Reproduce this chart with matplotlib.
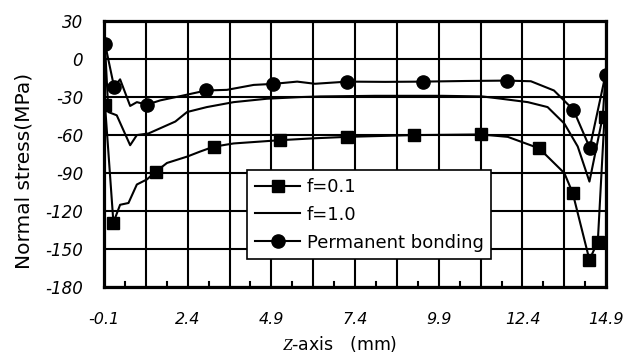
import matplotlib
matplotlib.use("Agg")
import matplotlib.pyplot as plt
import numpy as np

plt.rcParams['font.family'] = ['DejaVu Sans']
plt.rcParams['mathtext.fontset'] = 'custom'
plt.rcParams['mathtext.it'] = 'Liberation Serif:italic'
plt.rcParams['mathtext.rm'] = 'DejaVu Sans'

# f=0.1 (square markers on selected points)
x_f01 = [-0.07, 0.18, 0.38, 0.63, 0.88, 1.18, 1.45, 1.78, 2.38, 2.77, 3.17, 3.77, 5.17, 6.2,
         7.17, 9.16, 11.16, 11.96, 12.9, 13.65, 13.9, 14.4, 14.65, 14.85]
y_f01 = [-36.6, -129, -115, -113.6, -99, -95, -88.8, -82, -77, -73, -69.2, -66.6, -64, -62.5,
         -61.4, -60, -59.5, -61.4, -70.5, -90, -105.7, -158.5, -144, -45.7]
mk_f01 = [0, 1, 6, 10, 12, 14, 15, 16, 18, 20, 21, 22, 23]

# f=1.0 (plain line)
x_f10 = [-0.07, 0.03, 0.28, 0.68, 0.88, 1.23, 2.03, 2.38, 2.97, 3.77, 4.77, 5.77, 6.37,
         8.0, 10.0, 11.2, 11.76, 12.56, 13.15, 13.65, 14.05, 14.4, 14.8, 14.88]
y_f10 = [10, -41.8, -44.4, -68, -60, -58.7, -49.3, -41.8, -37.9, -34, -31.3, -30, -29.5,
         -29, -29, -29.5, -31.3, -34, -37.9, -50.9, -69, -96.7, -45, -12]

# Permanent bonding (circle markers on selected points)
x_pb = [-0.07, 0.2, 0.38, 0.68, 0.88, 1.18, 1.58, 2.17, 2.95, 3.57, 4.37, 4.95, 5.67, 6.2,
        7.17, 8.3, 9.43, 10.7, 11.93, 12.65, 13.34, 13.92, 14.41, 14.88]
y_pb = [12, -22, -16, -37, -34, -36, -32.6, -29.3, -24.8, -24.3, -20.4, -19.6, -17.8, -19.5,
        -17.8, -18, -17.8, -17.3, -17, -17.5, -24.8, -40, -70, -12.3]
mk_pb = [0, 1, 5, 8, 11, 14, 16, 18, 21, 22, 23]

x_labels = ["-0.1", "2.4", "4.9", "7.4", "9.9", "12.4", "14.9"]
y_ticks = [30, 0, -30, -60, -90, -120, -150, -180]

fig = plt.figure(figsize=(6.23, 3.63), dpi=100)
ax = fig.add_axes([0.167, 0.209, 0.806, 0.733])

ax.plot(x_f01, y_f01, color='black', lw=1.5, marker='s', ms=9, markevery=mk_f01, label='f=0.1', zorder=3)
ax.plot(x_f10, y_f10, color='black', lw=1.5, label='f=1.0', zorder=3)
ax.plot(x_pb, y_pb, color='black', lw=1.5, marker='o', ms=9.5, markevery=mk_pb, label='Permanent bonding', zorder=3)

ax.set_xlim(-0.1, 14.9)
ax.set_ylim(-180, 30)
ax.set_xticks(np.arange(-0.1, 14.95, 2.5))
ax.set_xticklabels(x_labels, fontsize=11.5, style='italic')
ax.set_xticks(np.arange(-0.1, 14.95, 1.25), minor=True)
ax.set_yticks(y_ticks)
ax.set_yticklabels([str(v) for v in y_ticks], fontsize=12, style='italic')
ax.grid(True, which='both', color='black', lw=1.5)
ax.tick_params(axis='x', which='both', length=0, pad=18)
ax.tick_params(axis='y', length=0, pad=15)
# small inner ticks halfway between grid lines
for xm in np.arange(-0.1 + 0.625, 14.9, 1.25):
    ax.plot([xm, xm], [-180, -176], color='black', lw=1.5, clip_on=False, zorder=2)
for s in ax.spines.values():
    s.set_linewidth(2.3)

ax.set_ylabel('Normal stress(MPa)', fontsize=14.5)
ax.yaxis.set_label_coords(-0.141, 0.436)
ax.set_xlabel('$Z$-axis   (mm)', fontsize=12.5)
ax.xaxis.set_label_coords(0.47, -0.175)

leg = ax.legend(loc='upper left', bbox_to_anchor=(0.285, 0.44), borderaxespad=0, fontsize=13,
                frameon=True, fancybox=False, edgecolor='black', framealpha=1, handlelength=2.5,
                handletextpad=0.35, borderpad=0.44, labelspacing=0.54)
leg.get_frame().set_linewidth(1.2)

fig.savefig('out.png', dpi=100)
